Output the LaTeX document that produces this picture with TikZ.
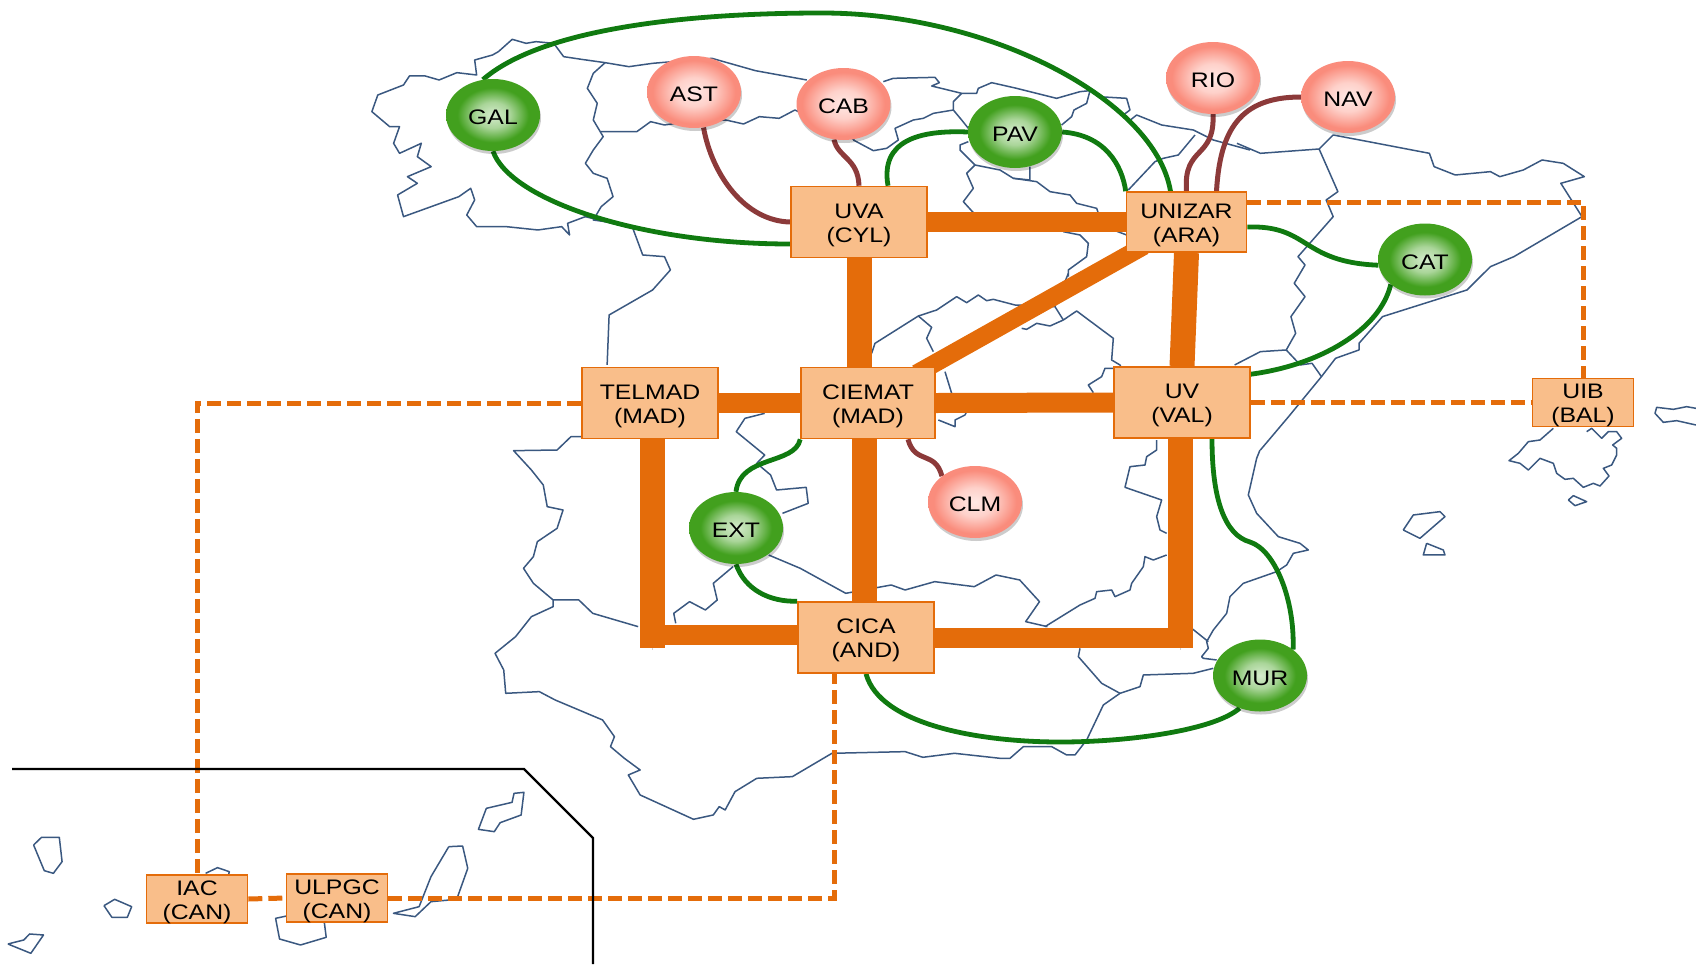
\documentclass[tikz,border=0pt]{standalone}
\usepackage{fontspec}
\setmainfont[FakeStretch=1.18]{Liberation Sans}
\usetikzlibrary{shapes.geometric}
\usetikzlibrary{shadows}

\definecolor{boxfill}{RGB}{249,190,138}
\definecolor{linkorange}{RGB}{228,108,10}
\definecolor{mapblue}{RGB}{58,88,128}
\definecolor{regiongreen}{RGB}{16,122,16}
\definecolor{accessred}{RGB}{140,58,58}
\definecolor{greenout}{RGB}{66,160,30}
\definecolor{greenin}{RGB}{214,236,206}
\definecolor{pinkout}{RGB}{250,140,124}
\definecolor{pinkin}{RGB}{255,232,228}
\pgfdeclareradialshading{greenball}{\pgfpointorigin}{color(0bp)=(greenin); color(9bp)=(greenin!70!greenout); color(19bp)=(greenout); color(50bp)=(greenout)}
\pgfdeclareradialshading{pinkball}{\pgfpointorigin}{color(0bp)=(pinkin); color(10bp)=(pinkin!75!pinkout); color(22bp)=(pinkout); color(50bp)=(pinkout)}

\pgfdeclarelayer{maplayer}
\pgfdeclarelayer{linklayer}
\pgfsetlayers{maplayer,linklayer,main}

\tikzset{
  map line/.style={draw=mapblue,line width=1.5pt,line join=round},
  map nw/.style={shift={(360,0)},x=.3954pt,y=-.3333pt},
  map ne/.style={shift={(960,0)},x=.4694pt,y=-.3333pt},
  map sw/.style={shift={(480,400)},x=.3954pt,y=-.3333pt},
  map se/.style={shift={(1000,400)},x=.3333pt,y=-.3333pt},
  map north/.style={shift={(850,60)},x=.3333pt,y=-.3333pt},
  map centre/.style={shift={(850,240)},x=.3333pt,y=-.3333pt},
  map canary/.style={shift={(0,740)},x=.3954pt,y=-.3333pt},
  map balear/.style={shift={(1490,390)},x=.3333pt,y=-.3333pt},
  site box/.style={rectangle,draw=linkorange,line width=1.6pt,fill=boxfill,inner sep=0pt,align=center,text height=40pt,text depth=0pt,font=\fontsize{21}{24}\selectfont},
  big box/.style={site box,minimum width=136pt,minimum height=71pt},
  mid box/.style={site box,minimum width=120pt,minimum height=60pt},
  small box/.style={site box,minimum width=101pt,minimum height=48pt},
  ball/.style={ellipse,inner sep=0pt,minimum width=94pt,minimum height=72pt,text height=19pt,text depth=0pt,font=\fontsize{21}{24}\selectfont,drop shadow={shadow xshift=1pt,shadow yshift=-3pt,opacity=.2,fill=black}},
  green ball/.style={ball,shading=greenball},
  pink ball/.style={ball,shading=pinkball},
  backbone line/.style={draw=linkorange,line width=20pt,preaction={draw=black!18,transform canvas={yshift=-2pt}}},
  tall backbone line/.style={backbone line,line width=25pt},
  island link/.style={draw=linkorange,line width=5pt,dash pattern=on 14pt off 6pt},
  region link/.style={draw=regiongreen,line width=4.8pt},
  access link/.style={draw=accessred,line width=5pt}
}

\begin{document}
\begin{tikzpicture}[x=1pt,y=-1pt]
 \useasboundingbox (0,0) rectangle (1696,964);

 % outline of the map
 \begin{pgfonlayer}{maplayer}
 \begin{scope}[map nw]
  \draw[map line] plot coordinates {(1130,240) (1000,212) (890,175) (740,190) (680,200) (620,188) (560,178) (515,170) (490,130) (445,125) (420,130) (385,118) (350,155) (335,165) (290,180) (295,225) (245,218) (200,240) (165,228) (125,228) (110,255) (45,285) (30,335) (75,380) (100,380) (85,430) (100,460) (155,430) (145,470) (180,500) (120,530) (145,550) (95,585) (110,650) (180,620) (250,590) (280,565) (290,600) (270,645) (295,680) (370,680) (450,690) (510,680) (530,705) (525,670) (570,650) (620,665) (690,685) (715,765) (770,770) (785,810) (740,870) (630,945) (625,1095)};
  \draw[map line] plot coordinates {(620,188) (590,220) (575,265) (600,310) (590,360) (615,410) (590,450) (570,490) (590,520) (625,535) (640,590) (610,620) (590,660) (620,665)};
  \draw[map line] plot coordinates {(610,395) (700,395) (735,365) (770,375) (800,370) (925,360) (970,372) (1010,350) (1060,355) (1100,330) (1225,400) (1250,420)};
 \end{scope}
 \begin{scope}[map north]
  \draw[map line] plot coordinates {(100,65) (130,55) (255,52) (268,68) (245,78) (335,100) (380,100) (385,85) (425,68) (500,85) (560,100) (620,115) (690,95) (720,92) (745,110) (830,115) (840,150) (820,165) (835,185) (860,165) (935,195) (1030,210) (1090,240) (1200,270)};
  \draw[map line] plot coordinates {(335,100) (310,125) (310,150) (335,180) (355,205)};
  \draw[map line] plot coordinates {(310,150) (250,160) (220,175) (190,180) (135,205) (145,240) (110,265) (70,272) (10,240)};
  \draw[map line] plot coordinates {(355,245) (330,255) (330,270) (375,315) (350,340) (370,385) (340,425) (370,458)};
  \draw[map line] plot coordinates {(375,315) (450,330) (490,355) (540,360) (540,320)};
  \draw[map line] plot coordinates {(490,355) (560,365) (600,395) (660,405) (680,430) (740,445) (745,460)};
  \draw[map line] plot coordinates {(640,515) (690,525) (715,550) (710,590) (655,630) (655,650)};
  \draw[map line] plot coordinates {(790,510) (830,525)};
  \draw[map line] plot coordinates {(835,390) (915,305) (940,295) (985,285) (1035,225)};
  \draw[map line] plot coordinates {(635,195) (665,170) (672,150) (710,130) (720,92)};
 \end{scope}
 \begin{scope}[map centre]
  \draw[map line] plot coordinates {(65,340) (75,310) (205,228) (260,210) (320,170) (350,188) (385,165) (410,182) (430,178) (495,195) (615,200) (640,240) (680,213) (790,295) (785,360) (810,375) (815,385) (765,385) (755,410) (715,435) (730,458)};
  \draw[map line] plot coordinates {(205,228) (245,262) (230,295) (250,335)};
  \draw[map line] plot coordinates {(515,265) (530,268) (560,250) (600,258) (640,240)};
  \draw[map line] plot coordinates {(655,100) (615,200)};
  \draw[map line] plot coordinates {(285,395) (305,460)};
  \draw[map line] plot coordinates {(265,540) (315,560) (315,540) (345,525) (350,515)};
 \end{scope}
 \begin{scope}[map ne]
  \draw[map line] plot coordinates {(590,430) (640,460) (765,447) (795,405) (870,425) (1000,460) (1010,500) (1055,525) (1130,515) (1150,530) (1200,510) (1240,480) (1285,490) (1330,530) (1280,550) (1325,650) (1180,770) (1130,800) (1080,870) (900,950) (850,1030) (850,1050) (800,1075) (770,1130) (700,1250) (640,1350)};
  \draw[map line] plot coordinates {(765,447) (805,575) (780,600) (795,650) (720,770) (735,795) (712,850) (735,890) (705,950) (715,1000) (695,1050) (640,1055) (585,1095)};
  \draw[map line] plot coordinates {(695,1050) (725,1095) (750,1090) (770,1130)};
 \end{scope}
 \begin{scope}[map se]
  \draw[map line] plot coordinates {(780,150) (770,175) (745,285) (770,340) (835,410) (900,430) (925,450) (880,460) (860,495) (830,515) (730,550) (690,590) (680,640) (640,690) (620,725) (625,745) (605,770) (610,775) (650,780)};
  \draw[map line] plot coordinates {(640,805) (580,820) (430,825) (420,860) (360,880) (310,915) (260,1020) (225,1065) (200,1065) (155,1040) (70,1040) (30,1075) (0,1075)};
  \draw[map line] plot coordinates {(575,685) (625,725)};
  \draw[map line] plot coordinates {(240,745) (235,770) (305,850) (360,880)};
  \draw[map line] plot coordinates {(135,680) (240,615) (285,595) (290,575) (335,570) (345,590) (390,570) (395,550) (430,500) (435,470) (460,480) (500,465)};
  \draw[map line] plot coordinates {(470,120) (470,150) (440,170) (435,195) (390,200) (375,262) (485,300) (470,350) (480,390) (500,400)};
  \draw[map line] plot coordinates {(1210,390) (1240,345) (1320,335) (1335,350) (1260,415) (1210,390)};
  \draw[map line] plot coordinates {(1280,430) (1270,465) (1335,465) (1330,450) (1280,430)};
 \end{scope}
 \begin{scope}[map sw]
  \draw[map line] plot coordinates {(255,110) (230,110) (195,150) (85,152) (130,210) (160,255) (170,320) (210,330) (195,385) (145,425) (135,470) (110,505) (135,550) (185,600) (185,620) (130,650) (90,710) (38,760) (60,810) (65,880) (150,875) (190,900) (310,960) (340,1010) (330,1040) (365,1075) (405,1110) (375,1125) (405,1185) (540,1258) (590,1245) (605,1220) (620,1230) (645,1175) (700,1135) (790,1130) (890,1060) (1075,1055) (1120,1072) (1200,1060) (1315,1075)};
  \draw[map line] plot coordinates {(185,600) (250,600) (285,640) (400,680)};
  \draw[map line] plot coordinates {(495,670) (490,640) (530,605) (570,630) (600,600) (590,550) (640,500)};
  \draw[map line] plot coordinates {(730,465) (810,505) (925,580) (1040,555) (1075,570) (1150,545) (1250,560) (1305,525) (1365,540) (1415,605) (1380,665) (1435,680)};
  \draw[map line] plot coordinates {(720,40) (670,55) (648,95) (720,165) (700,190) (735,225) (750,270) (825,262) (830,310) (765,340)};
 \end{scope}
 \begin{scope}[map canary]
  \draw[map line] plot coordinates {(85,315) (105,292) (150,292) (157,365) (135,400) (112,392) (85,315)};
  \draw[map line] plot coordinates {(263,497) (290,478) (333,500) (322,532) (283,532) (263,497)};
  \draw[map line] plot coordinates {(20,612) (60,600) (75,582) (110,585) (78,640) (20,612)};
  \draw[map line] plot coordinates {(520,400) (550,383) (580,395) (578,405)};
  \draw[map line] plot coordinates {(725,528) (697,535) (707,597) (760,615) (825,592) (820,545)};
  \draw[map line] plot coordinates {(1135,320) (1170,318) (1183,385) (1155,478) (1090,485) (1050,530) (995,520) (1060,500) (1090,410) (1135,320)};
  \draw[map line] plot coordinates {(1230,205) (1295,187) (1300,160) (1325,157) (1318,225) (1265,248) (1250,275) (1210,268) (1230,205)};
 \end{scope}
 \begin{scope}[map balear]
  \draw[map line] plot coordinates {(190,115) (150,150) (115,155) (85,190) (57,212) (90,220) (115,240) (150,205) (190,220) (200,250) (225,268) (250,265) (280,292) (310,280) (330,288) (357,258) (340,235) (365,225) (380,195) (380,175) (368,165) (395,145) (380,125) (355,125) (335,145) (315,125) (305,115) (290,125)};
  \draw[map line] plot coordinates {(235,330) (250,317) (290,335) (255,347) (235,330)};
  \draw[map line] plot coordinates {(618,55) (590,50) (550,58) (500,52) (495,70) (520,97) (560,92) (618,105)};
 \end{scope}
 \end{pgfonlayer}

 % inset frame of the Canary Islands
 \coordinate (frame start) at (12,769);
 \coordinate (frame bend) at (524,769);
 \coordinate (frame corner) at (593,838);
 \coordinate (frame end) at (593,964);
 \draw[line width=2.2pt] (frame start) -- (frame bend) -- (frame corner) -- (frame end);

 % sites
 \node[big box] (uva) at (859,222) {UVA\\(CYL)};
 \node[big box] (telmad) at (650,403) {TELMAD\\(MAD)};
 \node[big box,minimum width=134pt] (ciemat) at (868,403) {CIEMAT\\(MAD)};
 \node[mid box] (unizar) at (1186.5,222) {UNIZAR\\(ARA)};
 \node[big box] (uv) at (1182,402.5) {UV\\(VAL)};
 \node[small box] (uib) at (1583,402.5) {UIB\\(BAL)};
 \node[big box] (cica) at (866,637.5) {CICA\\(AND)};
 \node[small box] (iac) at (197,899) {IAC\\(CAN)};
 \node[small box] (ulpgc) at (337,898) {ULPGC\\(CAN)};

 % regions
 \node[green ball] (gal) at (493,115) {GAL};
 \node[pink ball] (ast) at (694,92) {AST};
 \node[pink ball] (cab) at (843.5,104) {CAB};
 \node[green ball] (pav) at (1015,132) {PAV};
 \node[pink ball] (rio) at (1213,78) {RIO};
 \node[pink ball] (nav) at (1348,97) {NAV};
 \node[green ball] (cat) at (1425,259.5) {CAT};
 \node[green ball] (ext) at (736,528) {EXT};
 \node[pink ball] (clm) at (975,502) {CLM};
 \node[green ball] (mur) at (1260,675.5) {MUR};

 \begin{pgfonlayer}{linklayer}
 \coordinate (telmad bottom) at (652,648);
 \coordinate (uv bottom) at (1180,648);

 % backbone
 \draw[backbone line] (uva.east) -- (unizar.west);
 \draw[backbone line] (telmad.east) -- (ciemat.west);
 \draw[backbone line] (ciemat.east) -- (uv.west);
 \draw[backbone line,line width=18pt,shorten <=-14pt,shorten >=-14pt] ([xshift=-7pt]ciemat.north east) -- ([xshift=6pt]unizar.south west);
 \draw[tall backbone line] (uva.south) -- (uva.south |- ciemat.north);
 \draw[tall backbone line] (unizar.south) -- (uv.north);
 \draw[tall backbone line] ([xshift=2pt]telmad.south) -- (telmad bottom);
 \draw[tall backbone line] ([xshift=-2pt]uv.south) -- (uv bottom);
 \draw[tall backbone line] ([xshift=-2pt]cica.north) -- ([xshift=-2pt]cica.north |- ciemat.south);
 \draw[backbone line] ([yshift=2.5pt]cica.west) -- ([yshift=2.5pt]cica.west -| telmad bottom);
 \draw[backbone line] (cica.east) -- (cica.east -| uv bottom);

 % dashed lines
 \draw[island link] (telmad.west) -- (telmad.west -| iac.north) -- (iac.north);
 \draw[island link] (iac.east) -- (ulpgc.west);
 \draw[island link] (ulpgc.east) -- ([xshift=-32pt]cica.south |- ulpgc.east) -- ([xshift=-32pt]cica.south);
 \draw[island link] (uv.east) -- (uib.west);
 \draw[island link] ([yshift=20pt]unizar.east) -- ([yshift=20pt]unizar.east -| uib.north) -- (uib.north);

 % green links
 \draw[region link] (gal.106) .. controls (540,30) and (680,13) .. (822,13) .. controls (990,13) and (1155,100) .. ([xshift=-16pt]unizar.north);
 \draw[region link] (gal.south) .. controls (510,200) and (640,244) .. ([yshift=-22pt]uva.west);
 \draw[region link] (pav.west) .. controls (920,130) and (880,140) .. ([xshift=29pt]uva.north);
 \draw[region link] (pav.east) .. controls (1105,135) and (1122,165) .. (unizar.north west);
 \draw[region link] ([yshift=-5pt]unizar.east) .. controls (1310,225) and (1300,262) .. (cat.187);
 \draw[region link] (cat.216) .. controls (1380,330) and (1320,365) .. ([yshift=-8pt]uv.north east);
 \draw[region link] (ciemat.south west) .. controls (795,465) and (740,455) .. (ext.north);
 \draw[region link] (ext.south) .. controls (745,590) and (770,602) .. (cica.north west);
 \draw[region link] ([xshift=30pt]uv.south) .. controls (1212,500) and (1225,535) .. (1250,542) .. controls (1275,550) and (1295,600) .. (mur.38);
 \draw[region link] (cica.south) .. controls (880,725) and (980,742) .. (1060,742) .. controls (1130,742) and (1215,730) .. (mur.238);

 % red links
 \draw[access link] (ast.-75) .. controls (712,175) and (745,221) .. (uva.west);
 \draw[access link] (cab.-105) .. controls (838,158) and (858,158) .. (uva.north);
 \draw[access link] (rio.south) .. controls (1215,160) and (1183,145) .. (unizar.north);
 \draw[access link] (nav.west) .. controls (1240,97) and (1220,130) .. ([xshift=30pt]unizar.north);
 \draw[access link] (clm.142) .. controls (935,450) and (915,465) .. ([xshift=40pt]ciemat.south);
 \end{pgfonlayer}
\end{tikzpicture}
\end{document}
